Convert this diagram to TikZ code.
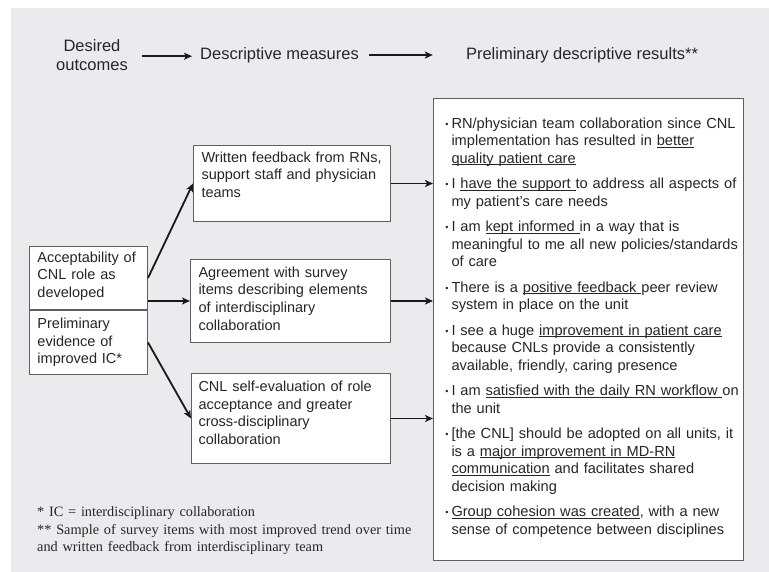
\documentclass[tikz,border=0pt]{standalone}
\usepackage{fontspec}
\setmainfont{Liberation Sans}
\newfontfamily\notefont{Liberation Serif}
\usepackage{tikz}
\usetikzlibrary{arrows.meta,positioning}
\tikzset{>={Stealth[length=8pt,width=7pt,inset=2pt]}}
\definecolor{panelgray}{RGB}{235,235,237}
\definecolor{boxline}{RGB}{95,95,95}
\newcommand{\bul}{\makebox[9pt][c]{\raisebox{1pt}{\fontsize{9}{9}\selectfont •}}}
\newcommand{\ind}{\hspace*{9pt}}
\newcommand{\ul}[1]{\underline{\smash{#1}}}
\newcommand{\keepln}{\rightskip=0pt plus 1fil minus 40pt\hyphenpenalty=10000\relax}

\begin{document}
\begin{tikzpicture}[x=1pt, y=-1pt,
        head/.style={inner sep=0pt, font=\fontsize{16.5}{19}\selectfont, text=black!85},
        mbox/.style={draw=boxline, line width=1pt, fill=white, align=left, inner xsep=8pt,
                     inner ysep=0pt, anchor=north west, font=\fontsize{14.5}{17.7}\selectfont, text=black!85},
        note/.style={inner sep=0pt, align=left, font=\notefont\fontsize{14.3}{17.5}\selectfont, text=black!85},
        arr/.style={->, line width=1.8pt, draw=black!90}]
                \useasboundingbox (0,0) rectangle (769,572);
                \fill[panelgray] (11,8) rectangle (769,572);

                \node[head, text width=80pt, align=center, anchor=north, text height=12pt, text depth=22pt] (des) at (92,39) {Desired\\outcomes};
                \node[head, anchor=base] (meas) at (279.5,59.3) {Descriptive measures};
                \node[head, anchor=base] (prel) at (582,59.3) {Preliminary descriptive results**};

                \node[mbox, text width=102pt, text height=15.8pt, text depth=47.2pt] (acc) at (29,246) {\keepln Acceptability of\\CNL role as\\developed};
                \node[mbox, text width=102pt, text height=17.8pt, text depth=46.2pt, below=0pt of acc] (pre) {\keepln Preliminary\\evidence of\\improved IC*};

                \node[mbox, text width=181pt, text height=16.8pt, text depth=59.2pt] (wf) at (193,145) {\keepln Written feedback from RNs,\\support staff and physician\\teams};
                \node[mbox, text width=184pt, text height=17.8pt, text depth=65.2pt] (agr) at (190,259) {\keepln Agreement with survey\\items describing elements\\of interdisciplinary\\collaboration};
                \node[mbox, inner xsep=7pt, text width=185pt, text height=17.8pt, text depth=72.2pt] (self) at (191,373) {\keepln CNL self-evaluation of role\\acceptance and greater\\cross-disciplinary\\collaboration};

                \node[mbox, inner xsep=9pt, text width=292pt, text height=29.8pt, text depth=432.2pt, font=\fontsize{14.6}{17.5}\selectfont] (res) at (433,98) {\keepln
                \bul RN/physician team collaboration since CNL\\
                \ind implementation has resulted in \ul{better}\\
                \ind \ul{quality patient care}\\[8pt]
                \bul I \ul{have the support\ }to address all aspects of\\
                \ind my patient's care needs\\[8pt]
                \bul I am \ul{kept informed\ }in a way that is\\
                \ind meaningful to me all new policies/standards\\
                \ind of care\\[8pt]
                \bul There is a \ul{positive feedback\ }peer review\\
                \ind system in place on the unit\\[8pt]
                \bul I see a huge \ul{improvement in patient care}\\
                \ind because CNLs provide a consistently\\
                \ind available, friendly, caring presence\\[8pt]
                \bul I am \ul{satisfied with the daily RN workflow\ }on\\
                \ind the unit\\[8pt]
                \bul [the CNL] should be adopted on all units, it\\
                \ind is a \ul{major improvement in MD-RN}\\
                \ind \ul{communication} and facilitates shared\\
                \ind decision making\\[8pt]
                \bul \ul{Group cohesion was created}, with a new\\
                \ind sense of competence between disciplines};

                \node[note, anchor=north west, text width=420pt, text height=12pt] (fn) at (37,504.3) {\keepln {*} IC = interdisciplinary collaboration\\{**} Sample of survey items with most improved trend over time\\and written feedback from interdisciplinary team};

                \draw[arr, shorten <=10pt, shorten >=8pt] (des.east) -- (des.east -| meas.west);
                \draw[arr, shorten <=10pt, shorten >=33pt] (meas.east) -- (meas.east -| prel.west);

                \draw[arr] (acc.east) -- (wf.west);
                \draw[arr] (acc.east |- agr.west) -- (agr.west);
                \draw[arr] (pre.east) -- (self.west);

                \draw[arr] (wf.east) -- (wf.east -| res.west);
                \draw[arr] (agr.east) -- (agr.east -| res.west);
                \draw[arr] (self.east) -- (self.east -| res.west);
            \end{tikzpicture}
\end{document}
